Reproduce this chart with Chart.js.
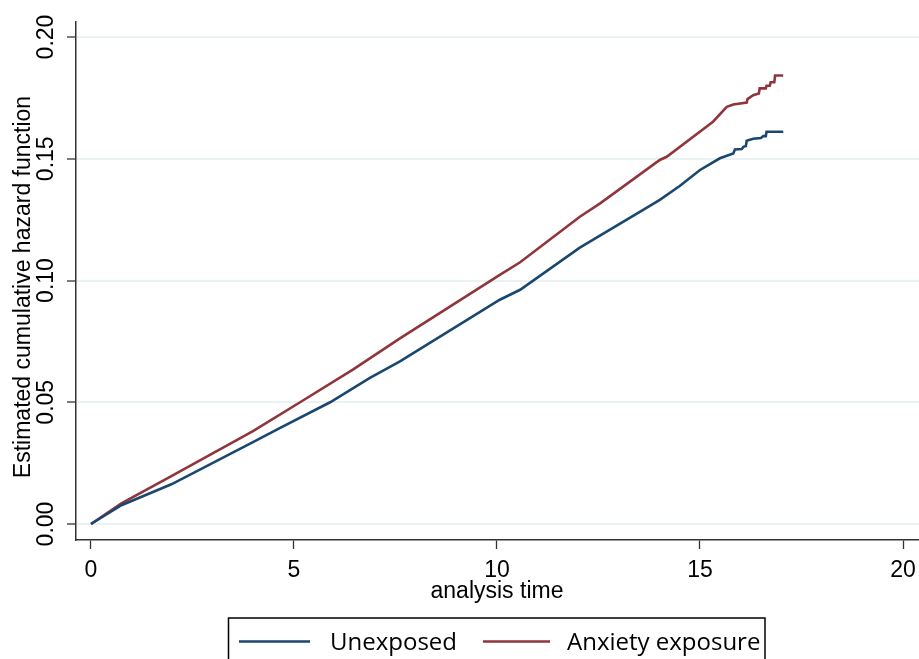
<!DOCTYPE html>
<html>
<head>
<meta charset="utf-8">
<script src="https://cdn.jsdelivr.net/npm/chart.js@4.4.1/dist/chart.umd.min.js"></script>
<style>
  html, body { margin: 0; padding: 0; background: #fff; }
  #wrap { width: 919px; height: 659px; position: relative; }
</style>
</head>
<body>
<div id="wrap"><canvas id="hazardChart"></canvas></div>
<script>
// Data
const timeUnexposed = [0, 0.75, 1.98, 3.99, 4.66, 5.89, 6.87, 7.61, 10.07, 10.57, 12.04, 13.6, 14.01, 14.5, 15.0, 15.49,
  15.82, 15.86, 16.03, 16.07, 16.13, 16.15, 16.31, 16.5, 16.56, 16.62, 16.64, 17.05];
const hazardUnexposed = [0, 0.0077, 0.0163, 0.0336, 0.0395, 0.050, 0.060, 0.0668, 0.0921, 0.0962, 0.1135, 0.129, 0.1331, 0.1388, 0.1454, 0.1502,
  0.1522, 0.1538, 0.1540, 0.1549, 0.1552, 0.1574, 0.1582, 0.1585, 0.1593, 0.1593, 0.1611, 0.1611];

const timeAnxiety = [0, 0.75, 1.98, 3.99, 5.15, 6.45, 7.61, 10.07, 10.57, 12.04, 12.54, 14.01, 14.18, 15.32, 15.66,
  15.82, 16.15, 16.17, 16.31, 16.45, 16.47, 16.62, 16.64, 16.72, 16.74, 16.83, 16.85, 17.05];
const hazardAnxiety = [0, 0.0085, 0.0197, 0.0381, 0.050, 0.0634, 0.0762, 0.1023, 0.1075, 0.1262, 0.1317, 0.1495, 0.1508, 0.1652, 0.1713,
  0.1723, 0.1731, 0.1745, 0.1761, 0.1768, 0.1789, 0.1789, 0.1800, 0.1800, 0.1814, 0.1814, 0.1842, 0.1842];

const xTicks = [0, 5, 10, 15, 20];
const yTicks = [0, 0.05, 0.10, 0.15, 0.20];
const seriesLabels = ['Unexposed', 'Anxiety exposure'];
const xTitle = 'analysis time';
const yTitle = 'Estimated cumulative hazard function';

const navy = '#1a476f';
const maroon = '#90353b';
const axisFont = '23px "Liberation Sans", Arial, sans-serif';

const toPoints = (xs, ys) => xs.map((t, i) => ({ x: t, y: ys[i] }));

// Stata-style texts: rotated y labels, axis titles and the boxed legend
const stataText = {
    id: 'stataText',
    afterDraw(chart) {
        const ctx = chart.ctx;
        const xs = chart.scales.x;
        const ys = chart.scales.y;
        ctx.save();
        ctx.fillStyle = '#000';
        ctx.font = axisFont;
        ctx.textAlign = 'center';
        ctx.textBaseline = 'middle';

        yTicks.forEach(v => {
            ctx.save();
            ctx.translate(47, ys.getPixelForValue(v));
            ctx.rotate(-Math.PI / 2);
            ctx.fillText(v.toFixed(2), 0, 0);
            ctx.restore();
        });

        ctx.save();
        ctx.translate(24, 287);
        ctx.rotate(-Math.PI / 2);
        ctx.fillText(yTitle, 0, 0);
        ctx.restore();

        ctx.fillText(xTitle, xs.getPixelForValue(10), 592);

        // legend
        ctx.strokeStyle = '#000';
        ctx.lineWidth = 1.5;
        ctx.strokeRect(228.5, 618, 536.5, 60);
        ctx.lineWidth = 2.5;
        ctx.strokeStyle = navy;
        ctx.beginPath(); ctx.moveTo(239, 641.5); ctx.lineTo(310, 641.5); ctx.stroke();
        ctx.strokeStyle = maroon;
        ctx.beginPath(); ctx.moveTo(483, 641.5); ctx.lineTo(550, 641.5); ctx.stroke();
        ctx.font = '24px "Open Sans", sans-serif';
        ctx.textAlign = 'left';
        ctx.textBaseline = 'alphabetic';
        ctx.fillText(seriesLabels[0], 330, 650);
        ctx.fillText(seriesLabels[1], 567, 650);
        ctx.restore();
    }
};

new Chart(document.getElementById('hazardChart'), {
    type: 'line',
    data: {
        datasets: [
            {
                label: seriesLabels[0],
                data: toPoints(timeUnexposed, hazardUnexposed),
                borderColor: navy,
                borderWidth: 2.6,
                pointRadius: 0,
                tension: 0
            },
            {
                label: seriesLabels[1],
                data: toPoints(timeAnxiety, hazardAnxiety),
                borderColor: maroon,
                borderWidth: 2.6,
                pointRadius: 0,
                tension: 0
            }
        ]
    },
    options: {
        responsive: true,
        maintainAspectRatio: false,
        animation: false,
        layout: { padding: { top: 22, right: 0, bottom: 0, left: 0 } },
        plugins: {
            legend: { display: false },
            tooltip: { enabled: false }
        },
        scales: {
            x: {
                type: 'linear',
                min: -0.369,
                max: 20.394,
                afterBuildTicks: (scale) => { scale.ticks = xTicks.map(v => ({ value: v })); },
                afterFit: (scale) => {
                    scale.height = 119;
                    scale.paddingLeft = 0;
                    scale.paddingRight = 0;
                },
                ticks: {
                    color: '#000',
                    font: { family: '"Liberation Sans", Arial, sans-serif', size: 23 },
                    padding: 8,
                    maxRotation: 0
                },
                grid: {
                    drawOnChartArea: false,
                    drawTicks: true,
                    tickLength: 9,
                    tickColor: '#333',
                    tickWidth: 1.3
                },
                border: { display: true, color: '#333', width: 1.5 }
            },
            y: {
                type: 'linear',
                min: -0.00657,
                max: 0.20616,
                afterBuildTicks: (scale) => { scale.ticks = yTicks.map(v => ({ value: v })); },
                afterFit: (scale) => { scale.width = 76; },
                ticks: { display: false },
                grid: {
                    color: '#eaf2f3',
                    lineWidth: 2,
                    drawTicks: true,
                    tickLength: 9,
                    tickColor: '#333',
                    tickWidth: 1.3
                },
                border: { display: true, color: '#333', width: 1.5 }
            }
        }
    },
    plugins: [stataText]
});
</script>
</body>
</html>
